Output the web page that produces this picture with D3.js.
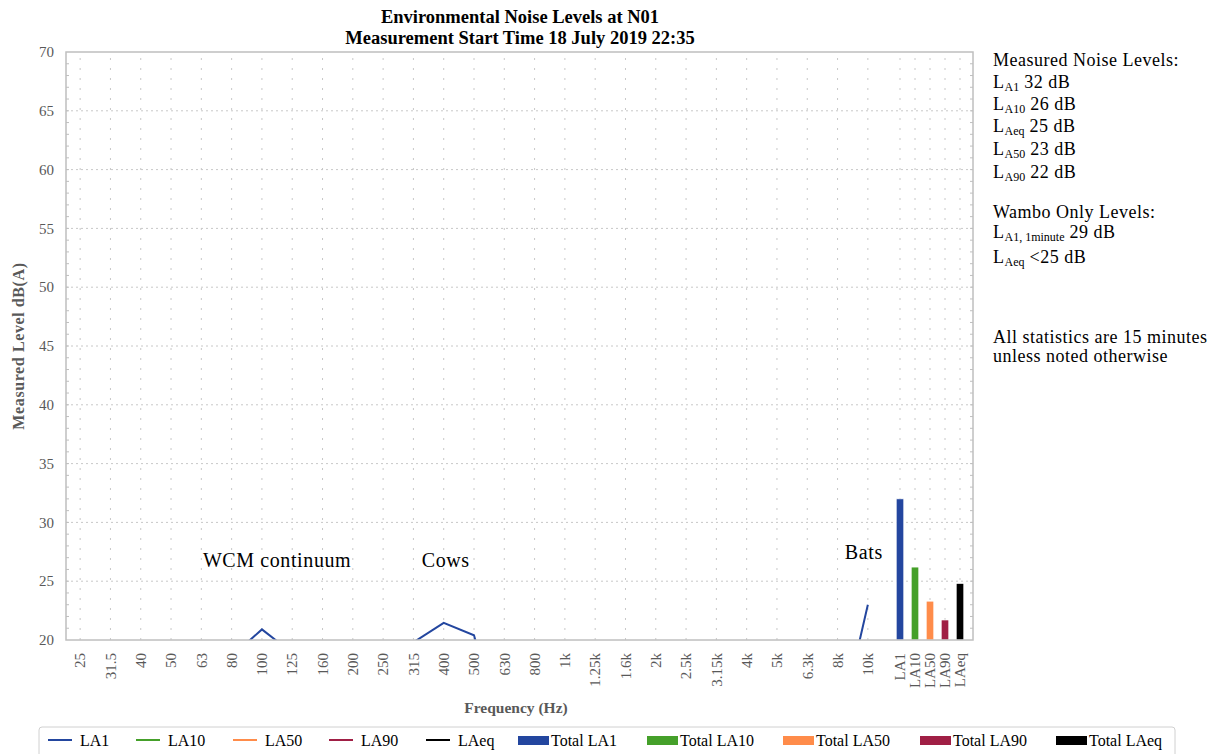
<!DOCTYPE html>
<html>
<head>
<meta charset="utf-8">
<script src="https://cdn.jsdelivr.net/npm/d3@7"></script>
<style>
  body { margin: 0; background: #fff; }
  svg { display: block; font-family: "Liberation Serif", serif; }
</style>
</head>
<body>
<svg id="chart" width="1215" height="754"></svg>
<script>
// Frequency bands (1/3 octave) and the LA statistics per band
var frequencies = ["25", "31.5", "40", "50", "63", "80", "100", "125", "160", "200", "250", "315", "400",
    "500", "630", "800", "1k", "1.25k", "1.6k", "2k", "2.5k", "3.15k", "4k", "5k", "6.3k", "8k", "10k"];
var la1  = [17, 16, 15, 15, 16, 18.6, 20.9, 18.9, 17, 17, 18, 19.8, 21.45,
    20.4, 11, 12, 11, 11, 10, 10, 10, 10, 10, 10, 11, 11.8, 23];
var la10 = [14, 13, 12, 12, 13, 15, 17, 16, 14, 14, 15, 16, 18,
    17, 9, 9, 9, 8, 8, 8, 8, 8, 8, 8, 8, 9, 17];
var la50 = [11, 10, 9, 9, 10, 12, 14, 13, 11, 11, 12, 13, 15,
    14, 7, 7, 6, 6, 6, 6, 6, 6, 6, 6, 6, 7, 12];
var la90 = [9, 8, 7, 7, 8, 10, 12, 11, 9, 9, 10, 11, 13,
    12, 6, 6, 5, 5, 5, 5, 5, 5, 5, 5, 5, 6, 10];
var laeq = [13, 12, 11, 11, 12, 14, 17, 15, 13, 13, 14, 16, 18,
    17, 9, 9, 8, 8, 8, 8, 8, 8, 8, 8, 8, 9, 18];

// Overall statistics (bars)
var totalLabels = ["LA1", "LA10", "LA50", "LA90", "LAeq"];
var totalValues = [32.0, 26.2, 23.3, 21.7, 24.8];

// Text panel values
var statSubs = ["A1", "A10", "Aeq", "A50", "A90"];
var statValues = ["32 dB", "26 dB", "25 dB", "23 dB", "22 dB"];
var wamboSubs = ["A1, 1minute", "Aeq"];
var wamboValues = ["29 dB", "<25 dB"];

var yTicks = [20, 25, 30, 35, 40, 45, 50, 55, 60, 65, 70];

var lineColors = { LA1: "#23469f", LA10: "#45a02a", LA50: "#ff8c4a", LA90: "#a01f45", LAeq: "#000000" };
var barColors = ["#23469f", "#45a02a", "#ff8c4a", "#a01f45", "#000000"];
var series = [
    { name: "LA1", values: la1 },
    { name: "LA10", values: la10 },
    { name: "LA50", values: la50 },
    { name: "LA90", values: la90 },
    { name: "LAeq", values: laeq }
];

// plot area
var plotL = 66, plotR = 973, plotT = 52, plotB = 640;
var tickColor = "#595959";

var svg = d3.select("#chart");

// Scales
var x = d3.scaleBand().domain(frequencies).range([65, 883]);
var xBar = d3.scaleBand().domain(totalLabels).range([892.5, 967.5])
    .paddingInner(0.5).paddingOuter(0.25);
var y = d3.scaleLinear().domain([20, 70]).range([plotB, plotT]);

function fx(f) { return x(f) + x.bandwidth() / 2; }
function bx(l) { return xBar(l) + xBar.bandwidth() / 2; }

svg.append("defs").append("clipPath").attr("id", "plotclip")
    .append("rect").attr("x", plotL).attr("y", plotT)
    .attr("width", plotR - plotL).attr("height", plotB - plotT);

// Grid lines
var grid = svg.append("g");
grid.selectAll(".hgrid").data(yTicks.slice(1, -1)).enter().append("line")
    .attr("x1", plotL).attr("x2", plotR)
    .attr("y1", function(d) { return y(d); }).attr("y2", function(d) { return y(d); })
    .attr("stroke", "#c8c8c8").attr("stroke-dasharray", "2,3");
var vPos = frequencies.map(fx).concat(totalLabels.map(bx));
grid.selectAll(".vgrid").data(vPos).enter().append("line")
    .attr("x1", function(d) { return d; }).attr("x2", function(d) { return d; })
    .attr("y1", plotT + 6).attr("y2", plotB)
    .attr("stroke", "#c8c8c8").attr("stroke-dasharray", "2,8");

// Minor ticks on both sides
var minor = d3.range(21, 70);
svg.append("g").selectAll("line").data(minor).enter().append("line")
    .attr("x1", plotL).attr("x2", plotL + 3)
    .attr("y1", function(d) { return y(d); }).attr("y2", function(d) { return y(d); })
    .attr("stroke", "#bfbfbf");
svg.append("g").selectAll("line").data(minor).enter().append("line")
    .attr("x1", plotR - 3).attr("x2", plotR)
    .attr("y1", function(d) { return y(d); }).attr("y2", function(d) { return y(d); })
    .attr("stroke", "#bfbfbf");

// Bars
svg.append("g").selectAll("rect").data(totalValues).enter().append("rect")
    .attr("x", function(d, i) { return xBar(totalLabels[i]); })
    .attr("y", function(d) { return y(d); })
    .attr("width", xBar.bandwidth())
    .attr("height", function(d) { return plotB - y(d); })
    .attr("fill", function(d, i) { return barColors[i]; })
    .attr("stroke", "#fff").attr("stroke-width", 0.6);

// Lines
var line = d3.line()
    .x(function(d, i) { return fx(frequencies[i]); })
    .y(function(d) { return y(d); });
svg.append("g").attr("clip-path", "url(#plotclip)")
    .selectAll("path").data(series.slice().reverse()).enter().append("path")
    .attr("d", function(d) { return line(d.values); })
    .attr("fill", "none")
    .attr("stroke", function(d) { return lineColors[d.name]; })
    .attr("stroke-width", 2);

// Frame
svg.append("rect").attr("x", plotL).attr("y", plotT)
    .attr("width", plotR - plotL).attr("height", plotB - plotT)
    .attr("fill", "none").attr("stroke", "#bfbfbf").attr("stroke-width", 1.5);

// Y axis labels
svg.append("g").selectAll("text").data(yTicks).enter().append("text")
    .attr("x", 54).attr("y", function(d) { return y(d); })
    .attr("dy", "0.35em").attr("text-anchor", "end")
    .attr("fill", tickColor).style("font-size", "15px")
    .text(function(d) { return d; });

// X axis labels (rotated)
var xLabels = frequencies.map(function(f) { return { t: f, x: fx(f) }; })
    .concat(totalLabels.map(function(l) { return { t: l, x: bx(l) }; }));
svg.append("g").selectAll("text").data(xLabels).enter().append("text")
    .attr("transform", function(d) { return "translate(" + d.x + ",653) rotate(-90)"; })
    .attr("dy", "0.35em").attr("text-anchor", "end")
    .attr("fill", tickColor).style("font-size", "15px")
    .text(function(d) { return d.t; });

// Axis titles
svg.append("text").attr("transform", "translate(18,346) rotate(-90)")
    .attr("dy", "0.35em").attr("text-anchor", "middle")
    .attr("fill", tickColor).style("font-size", "16px").style("font-weight", "bold")
    .style("letter-spacing", "0.6px")
    .text("Measured Level dB(A)");
svg.append("text").attr("x", 516).attr("y", 713)
    .attr("text-anchor", "middle")
    .attr("fill", tickColor).style("font-size", "15.5px").style("font-weight", "bold")
    .text("Frequency (Hz)");

// Title
var title = svg.append("text").attr("text-anchor", "middle")
    .style("font-size", "18.5px").style("font-weight", "bold").attr("fill", "#000");
title.append("tspan").attr("x", 520).attr("y", 23).text("Environmental Noise Levels at N01");
title.append("tspan").attr("x", 520).attr("y", 44).text("Measurement Start Time 18 July 2019 22:35");

// Annotations
var ann = svg.append("g").style("font-size", "20px").style("letter-spacing", "0.6px");
ann.append("text").attr("x", (fx("100") + fx("125")) / 2).attr("y", y(26.2))
    .attr("text-anchor", "middle").text("WCM continuum");
ann.append("text").attr("x", fx("400") + 2).attr("y", y(26.2))
    .attr("text-anchor", "middle").text("Cows");
ann.append("text").attr("x", fx("10k") - 4).attr("y", y(26.85))
    .attr("text-anchor", "middle").text("Bats");

// Right-hand text panel
var panel = svg.append("g").style("font-size", "18px").style("letter-spacing", "0.5px").attr("fill", "#000");
function levelLine(yy, sub, val) {
    var t = panel.append("text").attr("x", 993).attr("y", yy);
    t.append("tspan").text("L");
    t.append("tspan").attr("dy", 3).style("font-size", "12px").style("letter-spacing", "0px").text(sub);
    t.append("tspan").attr("dy", -3).text(" " + val);
}
panel.append("text").attr("x", 993).attr("y", 66).text("Measured Noise Levels:");
var statY = [88, 110, 132, 155, 178];
statSubs.forEach(function(s, i) { levelLine(statY[i], s, statValues[i]); });
panel.append("text").attr("x", 993).attr("y", 218).text("Wambo Only Levels:");
var wamboY = [238, 263];
wamboSubs.forEach(function(s, i) { levelLine(wamboY[i], s, wamboValues[i]); });
panel.append("text").attr("x", 993).attr("y", 343).text("All statistics are 15 minutes");
panel.append("text").attr("x", 993).attr("y", 362).text("unless noted otherwise");

// Legend
var legend = svg.append("g").style("font-size", "16px");
legend.append("rect").attr("x", 39).attr("y", 727).attr("width", 1136).attr("height", 40)
    .attr("rx", 3).attr("fill", "#fff").attr("stroke", "#d0d0d0");
var lineItemX = [48, 136, 233, 329, 426];
series.forEach(function(s, i) {
    legend.append("line").attr("x1", lineItemX[i]).attr("x2", lineItemX[i] + 24)
        .attr("y1", 740).attr("y2", 740)
        .attr("stroke", lineColors[s.name]).attr("stroke-width", 2);
    legend.append("text").attr("x", lineItemX[i] + 32).attr("y", 746)
        .text(s.name);
});
var barItemX = [518, 647, 783, 920, 1056];
totalLabels.forEach(function(l, i) {
    legend.append("rect").attr("x", barItemX[i]).attr("y", 736)
        .attr("width", 31).attr("height", 9).attr("fill", barColors[i]);
    legend.append("text").attr("x", barItemX[i] + 33).attr("y", 746)
        .text("Total " + l);
});
</script>
</body>
</html>
